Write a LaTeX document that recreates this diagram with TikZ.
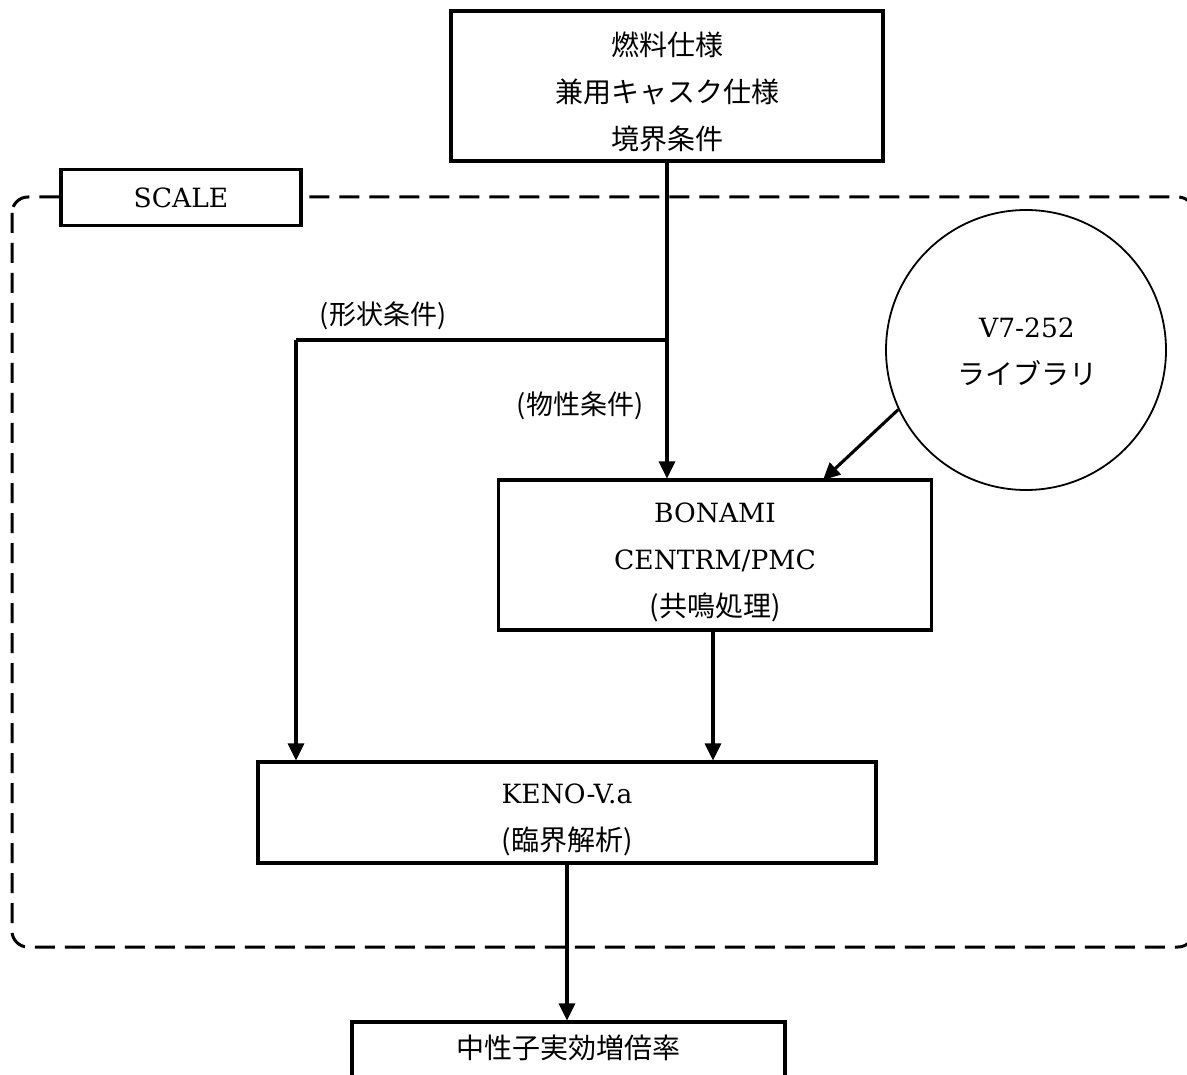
\documentclass[tikz,border=0pt]{standalone}
\usepackage{fontspec}
\setmainfont{DejaVu Serif}
\newfontfamily\cjk{Noto Sans CJK JP}
\newcommand\jptext{\cjk\fontsize{28}{47}\selectfont}
\usetikzlibrary{arrows.meta,positioning}
\begin{document}
\begin{tikzpicture}[x=1pt,y=-1pt,
  box/.style={draw,line width=3.1pt,fill=white,inner sep=0pt},
  txt/.style={inner sep=0pt,align=center,font=\fontsize{26.5}{47}\selectfont},
  arr/.style={line width=3.1pt,-{Triangle[length=17pt,width=16pt]}},
  lbl/.style={inner sep=0pt,font=\cjk\fontsize{27}{30}\selectfont}]
\useasboundingbox (0,0) rectangle (1187,1075);
% dashed SCALE region
\draw[line width=3pt,dash pattern=on 20pt off 10pt,rounded corners=16pt]
  (12,197) rectangle (1194,947);
\node[box,minimum width=240pt,minimum height=56pt] (scale) at (181,197.5) {};
\node[txt] (scale-t) at (181,197.5) {SCALE};
% boxes
\node[box,minimum width=432pt,minimum height=150pt] (top) at (667,86) {};
\node[txt] (top-t) at (667,92)
  {\jptext 燃料仕様\\\jptext 兼用キャスク仕様\\\jptext 境界条件};
\node[box,minimum width=433pt,minimum height=150pt] (bon) at (715,555) {};
\node[txt] (bon-t) at (715,562)
  {BONAMI\\CENTRM/PMC\\\jptext (共鳴処理)};
\node[box,minimum width=618pt,minimum height=101pt] (keno) at (567,812.5) {};
\node[txt] (keno-t) at (567,820)
  {KENO-V.a\\\jptext (臨界解析)};
\node[box,minimum width=433pt,minimum height=60pt] (res) at (568.5,1052) {};
\node[txt] (res-t) at (568.5,1048) {\jptext 中性子実効増倍率};
\node[draw,circle,line width=1.8pt,minimum size=280pt,inner sep=0pt] (lib) at (1026,350) {};
\node[txt] (lib-t) at (1027,352) {V7-252\\\jptext ライブラリ};
% labels
\node[lbl] (shape) at (383,316) {(形状条件)};
\node[lbl] (prop) at (580,406) {(物性条件)};
% connectors
\coordinate (j) at (667,340);
\coordinate (jl) at (296,340);
\coordinate (bt) at (823,480);
\draw[arr] (top.south) -- (top.south |- bon.north);
\draw[line width=3.1pt] (j) -- (jl);
\draw[arr] (jl) -- (jl |- keno.north);
\draw[arr] (lib.205) -- (bt);
\draw[arr] ([xshift=-2pt]bon.south) -- ([xshift=-2pt]bon.south |- keno.north);
\draw[arr] (keno.south) -- (keno.south |- res.north);
\end{tikzpicture}
\end{document}
